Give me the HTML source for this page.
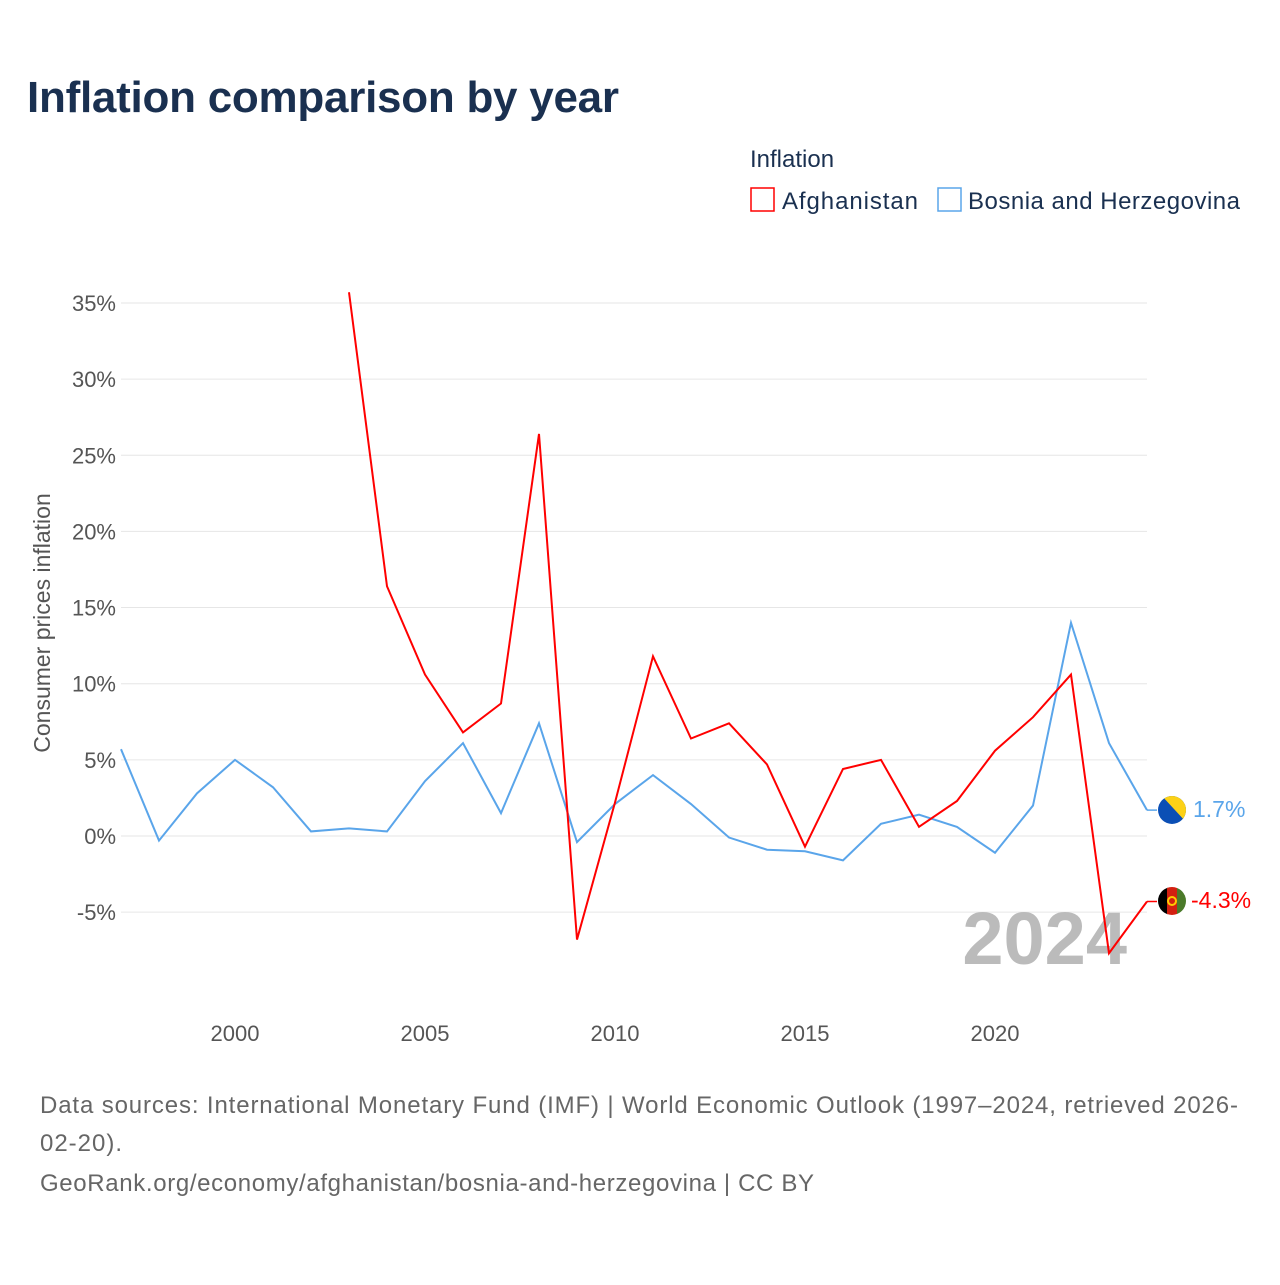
<!DOCTYPE html>
<html><head><meta charset="utf-8"><style>
body{margin:0;background:#fff;font-family:"Liberation Sans",sans-serif;}
svg text{font-family:"Liberation Sans",sans-serif;}
</style></head><body>
<svg id="c" width="1280" height="1280" xmlns="http://www.w3.org/2000/svg">
<text x="27" y="112" font-size="44" font-weight="bold" fill="#1a3050" textLength="592">Inflation comparison by year</text>
<text x="750" y="167" font-size="24" fill="#1a3050">Inflation</text>
<g><rect x="751" y="188" width="23" height="23" fill="none" stroke="#f00" stroke-width="1.5"/><text x="782" y="209" font-size="24" fill="#1a3050" textLength="136">Afghanistan</text></g>
<g><rect x="938" y="188" width="23" height="23" fill="none" stroke="#5aa5ea" stroke-width="1.5"/><text x="968" y="209" font-size="24" fill="#1a3050" textLength="272">Bosnia and Herzegovina</text></g>
<text transform="translate(50,623) rotate(-90)" text-anchor="middle" font-size="23" fill="#555">Consumer prices inflation</text>
<g id="grid"></g><g id="xt"></g>
<text x="1127" y="964" text-anchor="end" font-size="74" font-weight="bold" fill="#bbb">2024</text>
<g id="lines"></g>
<g><clipPath id="cb"><circle cx="1172" cy="810" r="14"/></clipPath><g clip-path="url(#cb)"><rect x="1158" y="796" width="28" height="28" fill="#0b4fb5"/><polygon points="1162,796 1186,796 1186,822" fill="#fcd116"/></g></g>
<g><clipPath id="ca"><circle cx="1172" cy="901" r="14"/></clipPath><g clip-path="url(#ca)"><rect x="1158" y="887" width="10" height="28" fill="#000"/><rect x="1167" y="887" width="10" height="28" fill="#d32011"/><rect x="1177" y="887" width="10" height="28" fill="#4b7a2a"/><circle cx="1172" cy="901" r="4" fill="none" stroke="#fc0" stroke-width="2"/></g></g>
<text x="1193" y="817" font-size="23" fill="#5aa5ea">1.7%</text>
<text x="1191" y="908" font-size="23" fill="#f00">-4.3%</text>
<text x="40" y="1113" font-size="24" fill="#666" textLength="1198">Data sources: International Monetary Fund (IMF) | World Economic Outlook (1997–2024, retrieved 2026-</text>
<text x="40" y="1151" font-size="24" fill="#666" textLength="82">02-20).</text>
<text x="40" y="1191" font-size="24" fill="#666" textLength="774">GeoRank.org/economy/afghanistan/bosnia-and-herzegovina | CC BY</text>
</svg>
<script>
const yTicks=[-5,0,5,10,15,20,25,30,35];
const xTicks=[2000,2005,2010,2015,2020];
const afgYears=[2003,2004,2005,2006,2007,2008,2009,2010,2011,2012,2013,2014,2015,2016,2017,2018,2019,2020,2021,2022,2023,2024];
const afgValues=[35.7,16.4,10.6,6.8,8.7,26.4,-6.8,2.2,11.8,6.4,7.4,4.7,-0.7,4.4,5.0,0.6,2.3,5.6,7.8,10.6,-7.7,-4.3];
const bihYears=[1997,1998,1999,2000,2001,2002,2003,2004,2005,2006,2007,2008,2009,2010,2011,2012,2013,2014,2015,2016,2017,2018,2019,2020,2021,2022,2023,2024];
const bihValues=[5.7,-0.3,2.8,5.0,3.2,0.3,0.5,0.3,3.6,6.1,1.5,7.4,-0.4,2.1,4.0,2.1,-0.1,-0.9,-1.0,-1.6,0.8,1.4,0.6,-1.1,2.0,14.0,6.1,1.7];
const X=y=>235+(y-2000)*38, Y=v=>836-v*15.23;
const NS="http://www.w3.org/2000/svg";
const grid=document.getElementById('grid'),xt=document.getElementById('xt'),lines=document.getElementById('lines');
yTicks.forEach(t=>{
 const l=document.createElementNS(NS,'line');l.setAttribute('x1',121);l.setAttribute('x2',1147);l.setAttribute('y1',Y(t));l.setAttribute('y2',Y(t));l.setAttribute('stroke','#e6e6e6');
 
 
 grid.appendChild(l);
 const tx=document.createElementNS(NS,'text');tx.setAttribute('x',116);tx.setAttribute('y',Y(t)+8);tx.setAttribute('text-anchor','end');tx.setAttribute('font-size','22');tx.setAttribute('fill','#555');tx.textContent=t+'%';
 
 
 grid.appendChild(tx);
});
xTicks.forEach(t=>{
 const tx=document.createElementNS(NS,'text');tx.setAttribute('x',X(t));tx.setAttribute('y',1041);tx.setAttribute('text-anchor','middle');tx.setAttribute('font-size','22');tx.setAttribute('fill','#555');tx.textContent=t;
 
 
 xt.appendChild(tx);
});
function line(ys,vs,col,name){
 const p=document.createElementNS(NS,'polyline');
 p.setAttribute('points',ys.map((y,i)=>X(y)+','+Y(vs[i])).join(' '));
 p.setAttribute('fill','none');p.setAttribute('stroke',col);p.setAttribute('stroke-width','2');
 
 
 lines.appendChild(p);
 const n=ys.length-1;
 const c=document.createElementNS(NS,'line');c.setAttribute('x1',X(ys[n]));c.setAttribute('y1',Y(vs[n]));c.setAttribute('x2',X(ys[n])+10);c.setAttribute('y2',Y(vs[n]));c.setAttribute('stroke',col);c.setAttribute('stroke-width','1.5');
 
 
 lines.appendChild(c);
}
line(bihYears,bihValues,'#5aa5ea','bosnia-line');
line(afgYears,afgValues,'#ff0000','afghanistan-line');
</script>
</body></html>
